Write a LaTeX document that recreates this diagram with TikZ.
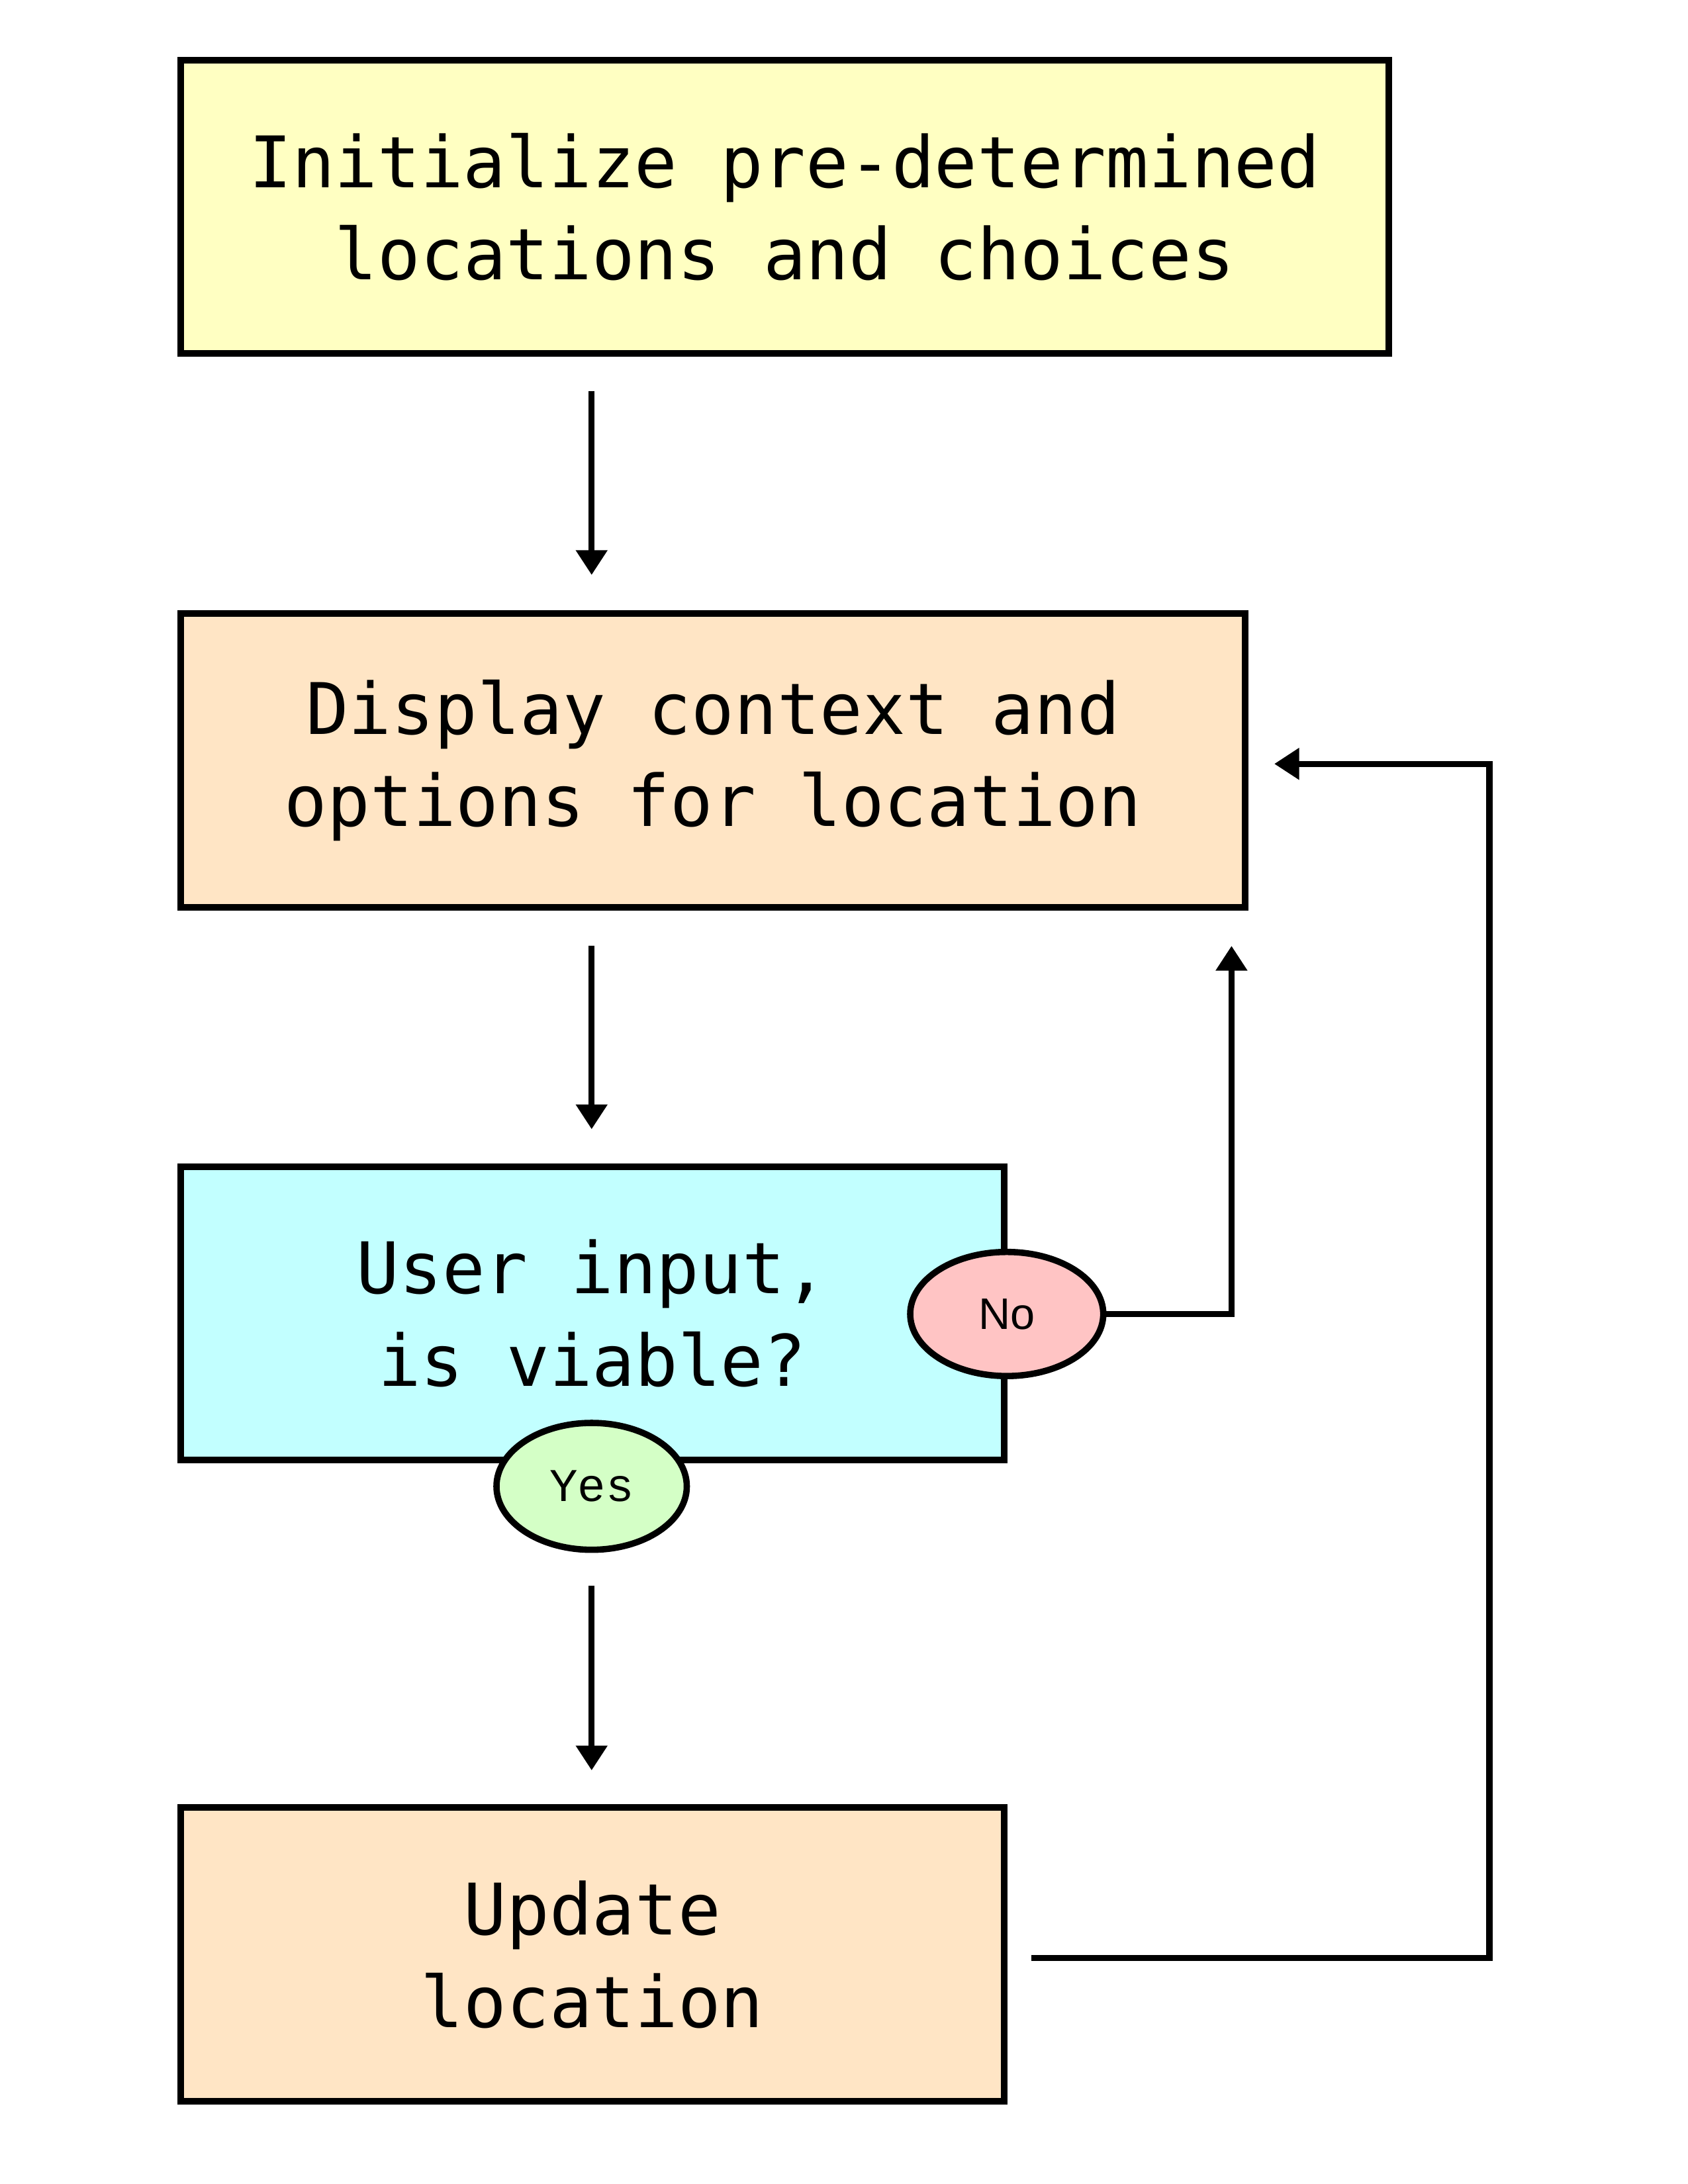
\documentclass[tikz,border=0pt]{standalone}
\usepackage{fontspec}
\newfontfamily\boxfont{DejaVu Sans Mono}
\newfontfamily\yesfont{Liberation Mono}
\newfontfamily\nofont{Liberation Sans}
\usetikzlibrary{arrows.meta,shapes.geometric,calc}
\definecolor{cyel}{HTML}{FFFFC2}
\definecolor{cpeach}{HTML}{FFE5C5}
\definecolor{ccyan}{HTML}{C2FFFF}
\definecolor{cpink}{HTML}{FFC4C4}
\definecolor{cgreen}{HTML}{D4FFC6}
\tikzset{
  procbox/.style={draw=black, line width=2.4pt, rectangle, outer sep=0pt, inner sep=0pt,
    minimum height=106.5pt, align=center,
    font={\boxfont\fontsize{25.8pt}{33.5pt}\selectfont}},
  answer/.style={draw=black, line width=2.3pt, ellipse, outer sep=0pt, inner sep=0pt},
  arr/.style={line width=2.2pt, -{Triangle[width=11pt,length=9pt]}},
  link/.style={line width=2.2pt}
}
\begin{document}
\begin{tikzpicture}[x=0.5pt,y=-0.5pt]
\useasboundingbox[fill=white] (0,0) rectangle (1224,1584);
\node[procbox, fill=cyel, minimum width=438pt] (b1) at (569,150)
  {Initialize pre-determined\\locations and choices};
\node[procbox, fill=cpeach, minimum width=386pt] (b2) at (517,551.5)
  {Display context and\\options for location};
\node[procbox, fill=ccyan, minimum width=298.5pt] (b3) at (429.5,952.5)
  {User input,\\is viable?};
\node[procbox, fill=cpeach, minimum width=298.5pt] (b4) at (429.5,1417.5)
  {Update\\location};
\node[answer, fill=cpink, minimum width=70pt, minimum height=45pt,
  font={\nofont\fontsize{16pt}{18pt}\selectfont}] (no) at (730,953) {No};
\node[answer, fill=cgreen, minimum width=69pt, minimum height=46pt,
  font={\yesfont\fontsize{17pt}{19pt}\selectfont}] (yes) at (429,1078) {Yes};
% straight arrows
\draw[arr, shorten <=13.5pt, shorten >=14pt] (b1.south -| yes.center) -- (b2.north -| yes.center);
\draw[arr, shorten <=14pt, shorten >=13.5pt] (b2.south -| yes.center) -- (b3.north -| yes.center);
\draw[arr, shorten <=13pt, shorten >=13.5pt] (yes.south) -- (b4.north -| yes.center);
% No branch
\coordinate (nocorner) at ($(b2.south east)+(-10,0)$);
\draw[arr, shorten >=14pt] (no.east) -| (nocorner);
% loop back
\draw[arr, shorten <=10pt, shorten >=10.5pt] ($(b4.east)+(0,2.5)$) -- ++(352,0) |- ($(b2.east)+(0,2.5)$);
\end{tikzpicture}
\end{document}
